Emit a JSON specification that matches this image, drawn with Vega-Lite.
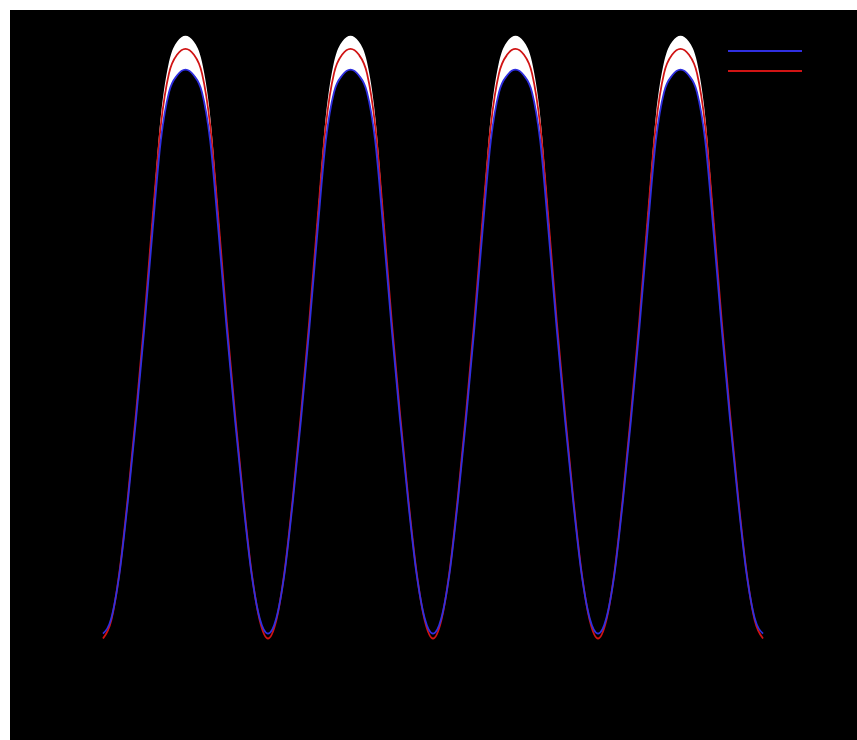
{
  "$schema": "https://vega.github.io/schema/vega-lite/v6.json",
  "width": 847,
  "height": 730,
  "autosize": {"type": "none"},
  "padding": {"left": 10, "top": 10, "right": 0, "bottom": 0},
  "background": "white",
  "config": {
    "view": {"fill": "black", "stroke": null},
    "axis": {"grid": false, "labelColor": "black", "tickColor": "black", "domainColor": "black", "titleColor": "black", "labelFontSize": 12, "labelFont": "DejaVu Sans", "titleFont": "DejaVu Sans"},
    "legend": {"labelColor": "black", "labelFont": "DejaVu Sans", "labelFontSize": 12}
  },
  "data": {"values": [
    {"x": -4.0, "blue": 0.185, "red": 0.172, "upper": 0.185},
    {"x": -3.9, "blue": 0.225, "red": 0.22, "upper": 0.225},
    {"x": -3.8, "blue": 0.345, "red": 0.35, "upper": 0.35},
    {"x": -3.7, "blue": 0.535, "red": 0.545, "upper": 0.545},
    {"x": -3.6, "blue": 0.755, "red": 0.77, "upper": 0.77},
    {"x": -3.5, "blue": 0.995, "red": 1.015, "upper": 1.015},
    {"x": -3.4, "blue": 1.255, "red": 1.285, "upper": 1.295},
    {"x": -3.3, "blue": 1.495, "red": 1.535, "upper": 1.56},
    {"x": -3.2, "blue": 1.625, "red": 1.675, "upper": 1.705},
    {"x": -3.1, "blue": 1.67, "red": 1.725, "upper": 1.76},
    {"x": -3.0, "blue": 1.685, "red": 1.74, "upper": 1.775},
    {"x": -2.9, "blue": 1.67, "red": 1.725, "upper": 1.76},
    {"x": -2.8, "blue": 1.625, "red": 1.675, "upper": 1.705},
    {"x": -2.7, "blue": 1.495, "red": 1.535, "upper": 1.56},
    {"x": -2.6, "blue": 1.255, "red": 1.285, "upper": 1.295},
    {"x": -2.5, "blue": 0.995, "red": 1.015, "upper": 1.015},
    {"x": -2.4, "blue": 0.755, "red": 0.77, "upper": 0.77},
    {"x": -2.3, "blue": 0.535, "red": 0.545, "upper": 0.545},
    {"x": -2.2, "blue": 0.345, "red": 0.35, "upper": 0.35},
    {"x": -2.1, "blue": 0.225, "red": 0.22, "upper": 0.225},
    {"x": -2.0, "blue": 0.185, "red": 0.172, "upper": 0.185},
    {"x": -1.9, "blue": 0.225, "red": 0.22, "upper": 0.225},
    {"x": -1.8, "blue": 0.345, "red": 0.35, "upper": 0.35},
    {"x": -1.7, "blue": 0.535, "red": 0.545, "upper": 0.545},
    {"x": -1.6, "blue": 0.755, "red": 0.77, "upper": 0.77},
    {"x": -1.5, "blue": 0.995, "red": 1.015, "upper": 1.015},
    {"x": -1.4, "blue": 1.255, "red": 1.285, "upper": 1.295},
    {"x": -1.3, "blue": 1.495, "red": 1.535, "upper": 1.56},
    {"x": -1.2, "blue": 1.625, "red": 1.675, "upper": 1.705},
    {"x": -1.1, "blue": 1.67, "red": 1.725, "upper": 1.76},
    {"x": -1.0, "blue": 1.685, "red": 1.74, "upper": 1.775},
    {"x": -0.9, "blue": 1.67, "red": 1.725, "upper": 1.76},
    {"x": -0.8, "blue": 1.625, "red": 1.675, "upper": 1.705},
    {"x": -0.7, "blue": 1.495, "red": 1.535, "upper": 1.56},
    {"x": -0.6, "blue": 1.255, "red": 1.285, "upper": 1.295},
    {"x": -0.5, "blue": 0.995, "red": 1.015, "upper": 1.015},
    {"x": -0.4, "blue": 0.755, "red": 0.77, "upper": 0.77},
    {"x": -0.3, "blue": 0.535, "red": 0.545, "upper": 0.545},
    {"x": -0.2, "blue": 0.345, "red": 0.35, "upper": 0.35},
    {"x": -0.1, "blue": 0.225, "red": 0.22, "upper": 0.225},
    {"x": 0.0, "blue": 0.185, "red": 0.172, "upper": 0.185},
    {"x": 0.1, "blue": 0.225, "red": 0.22, "upper": 0.225},
    {"x": 0.2, "blue": 0.345, "red": 0.35, "upper": 0.35},
    {"x": 0.3, "blue": 0.535, "red": 0.545, "upper": 0.545},
    {"x": 0.4, "blue": 0.755, "red": 0.77, "upper": 0.77},
    {"x": 0.5, "blue": 0.995, "red": 1.015, "upper": 1.015},
    {"x": 0.6, "blue": 1.255, "red": 1.285, "upper": 1.295},
    {"x": 0.7, "blue": 1.495, "red": 1.535, "upper": 1.56},
    {"x": 0.8, "blue": 1.625, "red": 1.675, "upper": 1.705},
    {"x": 0.9, "blue": 1.67, "red": 1.725, "upper": 1.76},
    {"x": 1.0, "blue": 1.685, "red": 1.74, "upper": 1.775},
    {"x": 1.1, "blue": 1.67, "red": 1.725, "upper": 1.76},
    {"x": 1.2, "blue": 1.625, "red": 1.675, "upper": 1.705},
    {"x": 1.3, "blue": 1.495, "red": 1.535, "upper": 1.56},
    {"x": 1.4, "blue": 1.255, "red": 1.285, "upper": 1.295},
    {"x": 1.5, "blue": 0.995, "red": 1.015, "upper": 1.015},
    {"x": 1.6, "blue": 0.755, "red": 0.77, "upper": 0.77},
    {"x": 1.7, "blue": 0.535, "red": 0.545, "upper": 0.545},
    {"x": 1.8, "blue": 0.345, "red": 0.35, "upper": 0.35},
    {"x": 1.9, "blue": 0.225, "red": 0.22, "upper": 0.225},
    {"x": 2.0, "blue": 0.185, "red": 0.172, "upper": 0.185},
    {"x": 2.1, "blue": 0.225, "red": 0.22, "upper": 0.225},
    {"x": 2.2, "blue": 0.345, "red": 0.35, "upper": 0.35},
    {"x": 2.3, "blue": 0.535, "red": 0.545, "upper": 0.545},
    {"x": 2.4, "blue": 0.755, "red": 0.77, "upper": 0.77},
    {"x": 2.5, "blue": 0.995, "red": 1.015, "upper": 1.015},
    {"x": 2.6, "blue": 1.255, "red": 1.285, "upper": 1.295},
    {"x": 2.7, "blue": 1.495, "red": 1.535, "upper": 1.56},
    {"x": 2.8, "blue": 1.625, "red": 1.675, "upper": 1.705},
    {"x": 2.9, "blue": 1.67, "red": 1.725, "upper": 1.76},
    {"x": 3.0, "blue": 1.685, "red": 1.74, "upper": 1.775},
    {"x": 3.1, "blue": 1.67, "red": 1.725, "upper": 1.76},
    {"x": 3.2, "blue": 1.625, "red": 1.675, "upper": 1.705},
    {"x": 3.3, "blue": 1.495, "red": 1.535, "upper": 1.56},
    {"x": 3.4, "blue": 1.255, "red": 1.285, "upper": 1.295},
    {"x": 3.5, "blue": 0.995, "red": 1.015, "upper": 1.015},
    {"x": 3.6, "blue": 0.755, "red": 0.77, "upper": 0.77},
    {"x": 3.7, "blue": 0.535, "red": 0.545, "upper": 0.545},
    {"x": 3.8, "blue": 0.345, "red": 0.35, "upper": 0.35},
    {"x": 3.9, "blue": 0.225, "red": 0.22, "upper": 0.225},
    {"x": 4.0, "blue": 0.185, "red": 0.172, "upper": 0.185}
  ]},
  "encoding": {
    "x": {"field": "x", "type": "quantitative",
      "scale": {"domain": [-5.127, 5.139], "nice": false, "zero": false},
      "axis": {"values": [-4, -3, -2, -1, 0, 1, 2, 3, 4], "format": "d", "offset": -88, "title": "D", "titleFontSize": 20, "titlePadding": 8}}
  },
  "layer": [
    {
      "mark": {"type": "area", "color": "white", "interpolate": "monotone"},
      "encoding": {
        "y": {"field": "upper", "type": "quantitative",
          "scale": {"domain": [-0.0979, 1.8436], "nice": false, "zero": false},
          "axis": {"values": [0.2, 0.4, 0.6, 0.8, 1.0, 1.2, 1.4, 1.6, 1.8], "format": ".1f", "offset": -77, "title": "P", "titleFontSize": 14, "titlePadding": 16}},
        "y2": {"field": "blue"}
      }
    },
    {
      "mark": {"type": "line", "strokeWidth": 1.8, "interpolate": "monotone"},
      "encoding": {
        "y": {"field": "red", "type": "quantitative", "scale": {"domain": [-0.0979, 1.8436], "nice": false, "zero": false}, "axis": null},
        "color": {"datum": "theory", "type": "nominal",
          "scale": {"domain": ["fit", "theory"], "range": ["#2f2fe0", "#d01414"]},
          "legend": {"orient": "none", "legendX": 717, "legendY": 31, "title": null, "symbolType": "stroke", "symbolSize": 5476, "symbolStrokeWidth": 2, "padding": 0, "clipHeight": 20, "rowPadding": 0, "labelOffset": 8}}
      }
    },
    {
      "mark": {"type": "line", "strokeWidth": 1.8, "interpolate": "monotone"},
      "encoding": {
        "y": {"field": "blue", "type": "quantitative", "scale": {"domain": [-0.0979, 1.8436], "nice": false, "zero": false}, "axis": null},
        "color": {"datum": "fit", "type": "nominal"}
      }
    }
  ]
}
